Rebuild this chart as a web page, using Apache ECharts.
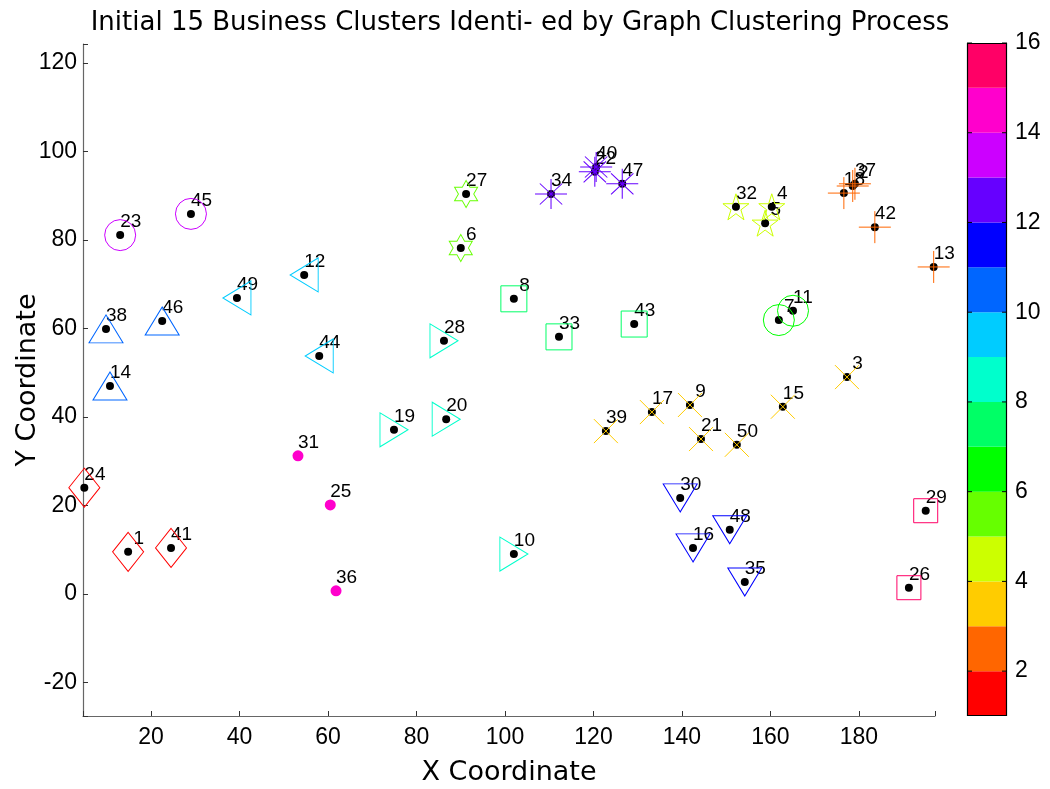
<!DOCTYPE html>
<html><head><meta charset="utf-8">
<script src="https://cdn.jsdelivr.net/npm/echarts@6/dist/echarts.min.js"></script>
<style>html,body{margin:0;padding:0;background:#fff}#c{width:1050px;height:789px}</style>
</head><body><div id="c"></div>
<script>
// ---- data ----
const pointIds = [1,41,24, 18,2,37,42,13, 39,17,9,21,50,15,3, 32,4,5, 27,6, 7,11, 8,33,43, 28,19,20,10, 49,12,44, 38,46,14, 30,16,48,35, 34,40,22,47, 23,45, 31,25,36, 29,26];
const pointX = [14.8,24.5,4.9, 176.6,178.6,179.1,183.6,196.9, 122.8,133.2,141.8,144.3,152.4,162.8,177.3, 152.2,160.3,158.8, 91.2,90.0, 161.9,165.1, 102.0,112.2,129.2, 86.2,74.9,86.7,102.0, 39.4,54.6,58.0, 9.8,22.5,10.7, 139.6,142.5,150.8,154.2, 110.4,120.6,120.3,126.5, 13.0,29.0, 53.2,60.5,61.8, 195.1,191.3];
const pointY = [9.5,10.4,24.0, 90.6,92.2,92.7,82.9,73.9, 36.8,41.1,42.7,35.0,33.7,42.3,49.0, 87.5,87.5,83.8, 90.4,78.2, 61.9,64.0, 66.7,58.1,61.0, 57.2,37.1,39.5,9.0, 66.9,72.1,53.8, 59.9,61.7,47.0, 21.7,10.4,14.5,2.7, 90.4,96.5,95.4,92.7, 81.1,85.9, 31.2,20.1,0.7, 18.8,1.4];
const pointCluster = [1,1,1, 2,2,2,2,2, 3,3,3,3,3,3,3, 4,4,4, 5,5, 6,6, 7,7,7, 8,8,8,8, 9,9,9, 10,10,10, 11,11,11,11, 12,12,12,12, 13,13, 14,14,14, 15,15];
const colorbarTicks = [2,4,6,8,10,12,14,16];
const clusterValues = [1,2,3,4,5,6,7,8,9,10,11,12,13,14,15];

// ---- style ----
const clusterColors = ['#FF0000','#FF6600','#FFCC00','#CCFF00','#66FF00','#00FF00','#00FF66','#00FFCC','#00CCFF','#0066FF','#0000FF','#6600FF','#CC00FF','#FF00CC','#FF0066'];
function starPath(n, rIn){
  let pts=[];
  for(let k=0;k<2*n;k++){
    const r = k%2===0?1:rIn;
    const a = -Math.PI/2 + k*Math.PI/n;
    pts.push([(50+50*r*Math.cos(a)).toFixed(2),(50+50*r*Math.sin(a)).toFixed(2)]);
  }
  return 'path://M'+pts.map(p=>p.join(',')).join('L')+'Z';
}
const PLUS='path://M0,5L10,5M5,0L5,10';
const CROSS='path://M0,0L10,10M10,0L0,10';
const AST='path://M0,5L10,5M5,0L5,10M1.5,1.5L8.5,8.5M8.5,1.5L1.5,8.5';
const markers = {
  1:{symbol:'diamond',size:[31,39]},
  2:{symbol:PLUS,size:[32,32]},
  3:{symbol:CROSS,size:[24,24]},
  4:{symbol:starPath(5,0.382),size:[26,26]},
  5:{symbol:starPath(6,0.577),size:[23,27]},
  6:{symbol:'circle',size:31},
  7:{symbol:'rect',size:26},
  8:{symbol:'triangle',size:[34,28],rotate:-90},
  9:{symbol:'triangle',size:[34,28],rotate:90},
  10:{symbol:'triangle',size:[34,28]},
  11:{symbol:'triangle',size:[34,28],rotate:180},
  12:{symbol:AST,size:[32,30]},
  13:{symbol:'circle',size:31},
  14:{symbol:'circle',size:11,filled:true},
  15:{symbol:'rect',size:24}
};
const FONT='Liberation Sans, Arial, sans-serif';
const NAMEFONT='DejaVu Sans, sans-serif';

const series=[];
series.push({
  type:'scatter', xAxisIndex:0, yAxisIndex:0, z:2,
  symbol:'circle', symbolSize:8, itemStyle:{color:'#000', opacity:1},
  data: pointIds.map((id,i)=>[pointX[i],pointY[i],id]),
  label:{show:true, formatter:p=>String(p.data[2]).padStart(2,' '), position:'inside', align:'left', verticalAlign:'middle', offset:[0,-13], fontSize:19, color:'#000', opacity:1, textBorderWidth:0, fontFamily:FONT},
  emphasis:{disabled:true}, silent:true
});
clusterValues.forEach(c=>{
  const m=markers[c];
  const data=[];
  pointIds.forEach((id,i)=>{ if(pointCluster[i]===c) data.push([pointX[i],pointY[i]]); });
  series.push({
    type:'scatter', xAxisIndex:0, yAxisIndex:0, z:3,
    symbol:m.symbol, symbolSize:m.size, symbolRotate:m.rotate||0,
    itemStyle: m.filled ? {color:clusterColors[c-1], opacity:1} : {color:'transparent', borderColor:clusterColors[c-1], borderWidth:1, opacity:1},
    data, emphasis:{disabled:true}, silent:true
  });
});
// colorbar
series.push({
  type:'custom', xAxisIndex:1, yAxisIndex:1, silent:true,
  data: clusterValues.map(v=>[v, v+1, v-1]),
  renderItem:(params, api)=>{
    const p0=api.coord([0, api.value(0)]), p1=api.coord([1, api.value(1)]);
    return {type:'rect', shape:{x:p0[0], y:p1[1], width:p1[0]-p0[0], height:p0[1]-p1[1]}, style:{fill:clusterColors[api.value(2)]}};
  }
});
series.push({
  type:'custom', xAxisIndex:1, yAxisIndex:1, silent:true, z:5,
  data: colorbarTicks.map(v=>[v]),
  renderItem:(params, api)=>{
    const a=api.coord([0, api.value(0)]), b=api.coord([1, api.value(0)]);
    return {type:'group', children:[
      {type:'line', shape:{x1:a[0], y1:a[1], x2:a[0]+5, y2:a[1]}, style:{stroke:'#000', lineWidth:1}},
      {type:'line', shape:{x1:b[0]-5, y1:b[1], x2:b[0], y2:b[1]}, style:{stroke:'#000', lineWidth:1}}
    ]};
  }
});
series.push({
  type:'custom', xAxisIndex:1, yAxisIndex:1, silent:true, z:6,
  data: [[1,16]],
  renderItem:(params, api)=>{
    const p0=api.coord([0, api.value(0)]), p1=api.coord([1, api.value(1)]);
    return {type:'rect', shape:{x:p0[0]+0.5, y:p1[1]+0.5, width:p1[0]-p0[0]-1, height:p0[1]-p1[1]-1}, style:{fill:'none', stroke:'#000', lineWidth:1.2}};
  }
});

const chart = echarts.init(document.getElementById('c'), null, {renderer:'canvas'});
chart.setOption({
  animation:false,
  backgroundColor:'#fff',
  title:{text:'Initial 15 Business Clusters Identi- ed by Graph Clustering Process', left:515, top:5, textAlign:'center',
    textStyle:{fontFamily:NAMEFONT, fontSize:26, fontWeight:'normal', color:'#000'}},
  grid:[{left:83, top:44, right:115, bottom:73, containLabel:false, outerBoundsMode:'none'},
        {left:967, top:43, width:40, bottom:73, containLabel:false, outerBoundsMode:'none'}],
  xAxis:[{type:'value', gridIndex:0, min:4.6, max:197.2, splitNumber:10, minInterval:20, maxInterval:20,
      name:'X Coordinate', nameLocation:'middle', nameGap:43, nameMoveOverlap:false,
      nameTextStyle:{fontFamily:NAMEFONT, fontSize:27, color:'#000'},
      axisLine:{show:true, onZero:false, lineStyle:{color:'#666', width:1.2}},
      axisTick:{show:true, inside:true, length:5, lineStyle:{color:'#333'}},
      axisLabel:{fontFamily:FONT, fontSize:23, color:'#000', margin:10, showMinLabel:true, showMaxLabel:true,
        formatter:v=>(Math.abs(v%20)<1e-6? String(v):'')},
      splitLine:{show:false}},
    {type:'value', gridIndex:1, min:0, max:1, show:false}],
  yAxis:[{type:'value', gridIndex:0, min:-27.6, max:124.3, splitNumber:7, minInterval:20, maxInterval:20,
      name:'Y Coordinate', nameLocation:'middle', nameGap:42, nameRotate:90, nameMoveOverlap:false,
      nameTextStyle:{fontFamily:NAMEFONT, fontSize:27, color:'#000'},
      axisLine:{show:true, onZero:false, lineStyle:{color:'#666', width:1.2}},
      axisTick:{show:true, inside:true, length:5, lineStyle:{color:'#333'}},
      axisLabel:{fontFamily:FONT, fontSize:23, color:'#000', margin:6,
        formatter:v=>(Math.abs(v%20)<1e-6? String(v):'')},
      splitLine:{show:false}},
    {type:'value', gridIndex:1, min:1, max:16, interval:1, position:'right',
      axisLine:{show:false}, axisTick:{show:false}, splitLine:{show:false},
      axisLabel:{fontFamily:FONT, fontSize:23, color:'#000', margin:8, formatter:v=>(v%2===0? String(v):'')}}],
  series
});
</script></body></html>
